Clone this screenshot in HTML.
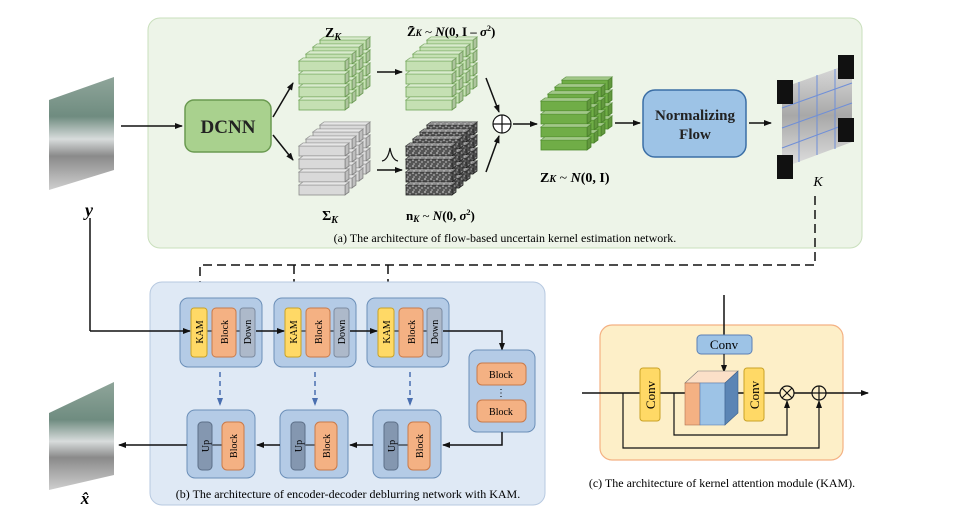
<!DOCTYPE html>
<html><head><meta charset="utf-8"><style>
html,body{margin:0;padding:0;background:#fff}
svg{display:block;font-family:"Liberation Serif",serif}
</style></head><body>
<svg width="966" height="508" viewBox="0 0 966 508" xmlns="http://www.w3.org/2000/svg">
<defs>
<marker id="ar" markerWidth="8" markerHeight="8" refX="7" refY="4" orient="auto" markerUnits="userSpaceOnUse"><path d="M0,1 L8,4 L0,7 Z" fill="#111"/></marker>
<marker id="arb" markerWidth="8" markerHeight="8" refX="7" refY="4" orient="auto" markerUnits="userSpaceOnUse"><path d="M0,1 L8,4 L0,7 Z" fill="#4a6fb0"/></marker>
<g id="slab"><polygon points="0,0 4,-3 50,-3 46,0"/><polygon points="46,0 50,-3 50,7 46,10"/><rect x="0" y="0" width="46" height="10"/><polygon points="0,0 4,-3 50,-3 46,0" fill="#fff" fill-opacity=".35" stroke="none"/><polygon points="46,0 50,-3 50,7 46,10" fill="#000" fill-opacity=".12" stroke="none"/></g>
<g id="layer"><use href="#slab" y="0"/><use href="#slab" y="13"/><use href="#slab" y="26"/><use href="#slab" y="39"/></g>
<g id="stack"><use href="#layer" x="21" y="-21"/><use href="#layer" x="14" y="-14"/><use href="#layer" x="7" y="-7"/><use href="#layer" x="0" y="0"/></g>
<pattern id="noise" width="6" height="6" patternUnits="userSpaceOnUse"><rect width="6" height="6" fill="#555"/><circle cx="1" cy="1" r="1" fill="#aaa"/><circle cx="4" cy="3" r="1" fill="#999"/><circle cx="2" cy="5" r=".8" fill="#bbb"/></pattern>
<linearGradient id="img1" x1="0" y1="0" x2="0" y2="1"><stop offset="0" stop-color="#8fa59a"/><stop offset=".35" stop-color="#6f8c80"/><stop offset=".55" stop-color="#d8dcdc"/><stop offset=".7" stop-color="#8a8a8a"/><stop offset="1" stop-color="#cfcfcf"/></linearGradient>
<linearGradient id="kimg" x1="0" y1="0" x2="0" y2="1"><stop offset="0" stop-color="#dcdcdc"/><stop offset=".5" stop-color="#a8a8a8"/><stop offset="1" stop-color="#e0e0e0"/></linearGradient>
</defs>

<rect x="148" y="18" width="714" height="230" rx="12" fill="#edf4e8" stroke="#c9dfbc"/>
<polygon points="49,100 114,77 114,170 49,190" fill="url(#img1)"/>
<text x="89" y="216" font-size="18" font-weight="bold" font-style="italic" text-anchor="middle">y</text>
<line x1="121" y1="126" x2="182" y2="126" stroke="#111" stroke-width="1.5" marker-end="url(#ar)"/>
<rect x="185" y="100" width="86" height="52" rx="9" fill="#a9d18e" stroke="#6a9a50" stroke-width="1.5"/>
<text x="228" y="133" font-size="19" font-weight="bold" text-anchor="middle" fill="#222">DCNN</text>
<line x1="273" y1="117" x2="293" y2="83" stroke="#111" stroke-width="1.5" marker-end="url(#ar)"/>
<line x1="273" y1="135" x2="293" y2="160" stroke="#111" stroke-width="1.5" marker-end="url(#ar)"/>
<use href="#stack" x="299" y="61" fill="#c5e0b3" stroke="#6fa355" stroke-width="0.8"/>
<use href="#stack" x="299" y="146" fill="#d9d9d9" stroke="#8a8a8a" stroke-width="0.8"/>
<use href="#stack" x="406" y="61" fill="#c5e0b3" stroke="#6fa355" stroke-width="0.8"/>
<use href="#stack" x="406" y="146" fill="url(#noise)" stroke="#222" stroke-width="0.8"/>
<text x="333" y="37" font-size="14" font-weight="bold" text-anchor="middle">Z<tspan font-size="10" font-style="italic" dy="3">K</tspan></text>
<text x="330" y="220" font-size="14" font-weight="bold" text-anchor="middle">Σ<tspan font-size="10" font-style="italic" dy="3">K</tspan></text>
<text x="407" y="36" font-size="13" font-weight="bold">Z̄<tspan font-size="9" font-style="italic">K</tspan><tspan font-weight="normal"> ~ </tspan><tspan font-style="italic">N</tspan>(0, I – <tspan font-style="italic">σ</tspan><tspan font-size="8" dy="-5">2</tspan><tspan dy="5">)</tspan></text>
<text x="406" y="220" font-size="13" font-weight="bold">n<tspan font-size="9" font-style="italic" dy="2">K</tspan><tspan font-weight="normal" dy="-2"> ~ </tspan><tspan font-style="italic">N</tspan>(0,  <tspan font-style="italic">σ</tspan><tspan font-size="8" dy="-5">2</tspan><tspan dy="5">)</tspan></text>
<line x1="377" y1="72" x2="402" y2="72" stroke="#111" stroke-width="1.5" marker-end="url(#ar)"/>
<line x1="377" y1="170" x2="402" y2="170" stroke="#111" stroke-width="1.5" marker-end="url(#ar)"/>
<path d="M382,161 Q388,160 390,148 Q392,160 398,161" fill="none" stroke="#111" stroke-width="1.2"/>
<line x1="486" y1="78" x2="499" y2="112" stroke="#111" stroke-width="1.5" marker-end="url(#ar)"/>
<line x1="486" y1="172" x2="499" y2="136" stroke="#111" stroke-width="1.5" marker-end="url(#ar)"/>
<circle cx="502" cy="124" r="9" fill="#fff" stroke="#111" stroke-width="1.2"/>
<path d="M493,124 H511 M502,115 V133" stroke="#111" stroke-width="1.2"/>
<line x1="513" y1="124" x2="537" y2="124" stroke="#111" stroke-width="1.5" marker-end="url(#ar)"/>
<use href="#stack" x="541" y="101" fill="#70ad47" stroke="#4e8a2e" stroke-width="0.8"/>
<text x="540" y="182" font-size="14" font-weight="bold">Z<tspan font-size="10" font-style="italic">K</tspan><tspan font-weight="normal"> ~ </tspan><tspan font-style="italic">N</tspan>(0, I)</text>
<line x1="615" y1="123" x2="640" y2="123" stroke="#111" stroke-width="1.5" marker-end="url(#ar)"/>
<rect x="643" y="90" width="103" height="67" rx="12" fill="#9dc3e6" stroke="#3b6ea5" stroke-width="1.5"/>
<text x="695" y="120" font-size="15" font-weight="bold" text-anchor="middle" fill="#222">Normalizing</text>
<text x="695" y="139" font-size="15" font-weight="bold" text-anchor="middle" fill="#222">Flow</text>
<line x1="749" y1="123" x2="771" y2="123" stroke="#111" stroke-width="1.5" marker-end="url(#ar)"/>
<polygon points="782,88 852,63 852,142 782,168" fill="url(#kimg)"/>
<g stroke="#6f8fd8" stroke-width="1">
<line x1="799" y1="82" x2="799" y2="162"/><line x1="817" y1="75" x2="817" y2="155"/><line x1="835" y1="69" x2="835" y2="149"/>
<line x1="782" y1="108" x2="852" y2="83"/><line x1="782" y1="128" x2="852" y2="103"/><line x1="782" y1="148" x2="852" y2="122"/>
</g>
<rect x="777" y="80" width="16" height="24" fill="#111"/><rect x="838" y="55" width="16" height="24" fill="#111"/>
<rect x="838" y="118" width="16" height="24" fill="#111"/><rect x="777" y="155" width="16" height="24" fill="#111"/>
<text x="818" y="186" font-size="14" font-style="italic" text-anchor="middle">K</text>
<text x="505" y="242" font-size="12" text-anchor="middle">(a) The architecture of flow-based uncertain kernel estimation network.</text>

<path d="M815,196 V265 H200 V303 M294,265 V303 M388,265 V303" fill="none" stroke="#111" stroke-width="1.5" stroke-dasharray="9,5"/>
<path d="M196,300 L200,307 L204,300 Z M290,300 L294,307 L298,300 Z M384,300 L388,307 L392,300 Z" fill="#111"/>

<rect x="150" y="282" width="395" height="223" rx="12" fill="#dfe9f5" stroke="#b7c9e0"/>
<g>
<rect x="180" y="298" width="82" height="69" rx="8" fill="#b4cbe6" stroke="#6b8fb8"/>
<rect x="274" y="298" width="82" height="69" rx="8" fill="#b4cbe6" stroke="#6b8fb8"/>
<rect x="367" y="298" width="82" height="69" rx="8" fill="#b4cbe6" stroke="#6b8fb8"/>
</g>
<line x1="90" y1="218" x2="90" y2="331" stroke="#111" stroke-width="1.5"/>
<line x1="90" y1="331" x2="190" y2="331" stroke="#111" stroke-width="1.5" marker-end="url(#ar)"/>
<g font-size="10" text-anchor="middle">
<g id="enc">
<line x1="200" y1="331" x2="250" y2="331" stroke="#111"/>
<rect x="191" y="308" width="16" height="49" rx="3" fill="#ffd966" stroke="#c9a227"/>
<rect x="212" y="308" width="24" height="49" rx="4" fill="#f4b183" stroke="#c97a4a"/>
<rect x="240" y="308" width="15" height="49" rx="3" fill="#adb9ca" stroke="#7d8ba0"/>
<text transform="translate(203,332) rotate(-90)" text-anchor="middle">KAM</text>
<text transform="translate(228,332) rotate(-90)" text-anchor="middle">Block</text>
<text transform="translate(251,332) rotate(-90)" text-anchor="middle">Down</text>
</g>
<use href="#enc" x="94"/><use href="#enc" x="187"/>
</g>
<line x1="256" y1="331" x2="284" y2="331" stroke="#111" stroke-width="1.5" marker-end="url(#ar)"/>
<line x1="350" y1="331" x2="377" y2="331" stroke="#111" stroke-width="1.5" marker-end="url(#ar)"/>
<path d="M443,331 H502 V350" fill="none" stroke="#111" stroke-width="1.5" marker-end="url(#ar)"/>
<rect x="469" y="350" width="66" height="82" rx="8" fill="#b4cbe6" stroke="#6b8fb8"/>
<rect x="477" y="363" width="49" height="22" rx="5" fill="#f4b183" stroke="#c97a4a"/>
<rect x="477" y="400" width="49" height="22" rx="5" fill="#f4b183" stroke="#c97a4a"/>
<text x="501" y="378" font-size="10" text-anchor="middle">Block</text>
<text x="501" y="415" font-size="10" text-anchor="middle">Block</text>
<text x="501" y="396" font-size="10" text-anchor="middle">⋮</text>
<path d="M502,432 V445 H443" fill="none" stroke="#111" stroke-width="1.5" marker-end="url(#ar)"/>
<g>
<rect x="187" y="410" width="68" height="68" rx="8" fill="#b4cbe6" stroke="#6b8fb8"/>
<rect x="280" y="410" width="68" height="68" rx="8" fill="#b4cbe6" stroke="#6b8fb8"/>
<rect x="373" y="410" width="68" height="68" rx="8" fill="#b4cbe6" stroke="#6b8fb8"/>
</g>
<g id="dec" font-size="10">
<line x1="205" y1="445" x2="230" y2="445" stroke="#111"/>
<rect x="198" y="422" width="14" height="48" rx="4" fill="#8497b0" stroke="#5c6f88"/>
<rect x="222" y="422" width="22" height="48" rx="5" fill="#f4b183" stroke="#c97a4a"/>
<text transform="translate(209,446) rotate(-90)" text-anchor="middle">Up</text>
<text transform="translate(237,446) rotate(-90)" text-anchor="middle">Block</text>
</g>
<use href="#dec" x="93"/><use href="#dec" x="186"/>
<line x1="373" y1="445" x2="350" y2="445" stroke="#111" stroke-width="1.5" marker-end="url(#ar)"/>
<line x1="280" y1="445" x2="257" y2="445" stroke="#111" stroke-width="1.5" marker-end="url(#ar)"/>
<line x1="187" y1="445" x2="119" y2="445" stroke="#111" stroke-width="1.5" marker-end="url(#ar)"/>
<g stroke="#4a6fb0" stroke-width="1.5" stroke-dasharray="5,4">
<line x1="220" y1="372" x2="220" y2="405" marker-end="url(#arb)"/>
<line x1="315" y1="372" x2="315" y2="405" marker-end="url(#arb)"/>
<line x1="410" y1="372" x2="410" y2="405" marker-end="url(#arb)"/>
</g>
<polygon points="49,413 114,382 114,475 49,490" fill="url(#img1)"/>
<text x="85" y="504" font-size="17" font-weight="bold" font-style="italic" text-anchor="middle">x̂</text>
<text x="348" y="498" font-size="12" text-anchor="middle">(b) The architecture of encoder-decoder deblurring network with KAM.</text>

<rect x="600" y="325" width="243" height="135" rx="12" fill="#fdefc8" stroke="#f4b183" stroke-width="1.2"/>
<line x1="724" y1="295" x2="724" y2="335" stroke="#111" stroke-width="1.5"/>
<rect x="697" y="335" width="55" height="19" rx="4" fill="#9dc3e6" stroke="#5a7fb5"/>
<text x="724" y="349" font-size="13" text-anchor="middle">Conv</text>
<line x1="724" y1="354" x2="724" y2="372" stroke="#111" stroke-width="1.2" marker-end="url(#ar)"/>
<line x1="582" y1="393" x2="868" y2="393" stroke="#111" stroke-width="1.5" marker-end="url(#ar)"/>
<rect x="640" y="368" width="20" height="53" rx="3" fill="#ffd966" stroke="#c9a227"/>
<text transform="translate(655,395) rotate(-90)" font-size="13" text-anchor="middle">Conv</text>
<polygon points="685,383 698,371 738,371 725,383" fill="#fbe0c8" stroke="#777" stroke-width=".6"/>
<rect x="685" y="383" width="15" height="42" fill="#f4b183" stroke="#b07050" stroke-width=".6"/>
<rect x="700" y="383" width="25" height="42" fill="#9dc3e6" stroke="#5a7fb5" stroke-width=".6"/>
<polygon points="725,383 738,371 738,413 725,425" fill="#5b85b5" stroke="#3b5f8a" stroke-width=".6"/>
<rect x="744" y="368" width="20" height="53" rx="3" fill="#ffd966" stroke="#c9a227"/>
<text transform="translate(759,395) rotate(-90)" font-size="13" text-anchor="middle">Conv</text>
<circle cx="787" cy="393" r="7" fill="#fdefc8" stroke="#111" stroke-width="1.2"/>
<path d="M782,388 L792,398 M792,388 L782,398" stroke="#111" stroke-width="1.2"/>
<circle cx="819" cy="393" r="7" fill="#fdefc8" stroke="#111" stroke-width="1.2"/>
<path d="M812,393 H826 M819,386 V400" stroke="#111" stroke-width="1.2"/>
<path d="M674,393 V435 H787 V401" fill="none" stroke="#111" stroke-width="1.2" marker-end="url(#ar)"/>
<path d="M623,393 V448 H819 V401" fill="none" stroke="#111" stroke-width="1.2" marker-end="url(#ar)"/>
<text x="722" y="487" font-size="12" text-anchor="middle">(c) The architecture of kernel attention module (KAM).</text>
</svg>
</body></html>
